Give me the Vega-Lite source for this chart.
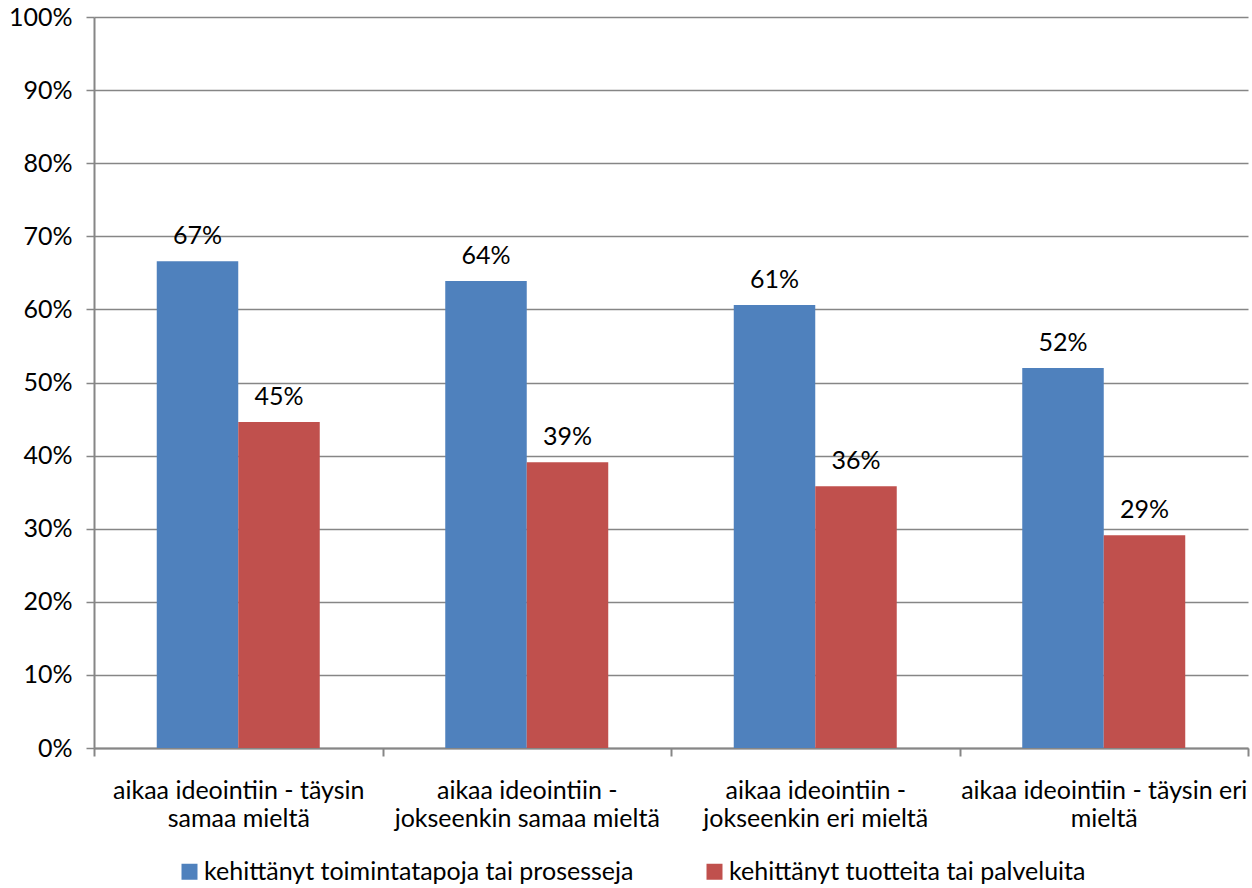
{
  "$schema": "https://vega.github.io/schema/vega-lite/v6.json",
  "width": 1154,
  "height": 731,
  "autosize": {"type": "none"},
  "padding": {"left": 94, "top": 17, "right": 4, "bottom": 140},
  "background": "white",
  "config": {
    "view": {"stroke": null},
    "font": "Lato",
    "axis": {"labelFont": "Lato", "labelColor": "black"}
  },
  "data": {
    "values": [
      {"kategoria": "aikaa ideointiin - täysin samaa mieltä", "sarja": "kehittänyt toimintatapoja tai prosesseja", "arvo": 0.666, "teksti": "67%"},
      {"kategoria": "aikaa ideointiin - täysin samaa mieltä", "sarja": "kehittänyt tuotteita tai palveluita", "arvo": 0.446, "teksti": "45%"},
      {"kategoria": "aikaa ideointiin - jokseenkin samaa mieltä", "sarja": "kehittänyt toimintatapoja tai prosesseja", "arvo": 0.639, "teksti": "64%"},
      {"kategoria": "aikaa ideointiin - jokseenkin samaa mieltä", "sarja": "kehittänyt tuotteita tai palveluita", "arvo": 0.391, "teksti": "39%"},
      {"kategoria": "aikaa ideointiin - jokseenkin eri mieltä", "sarja": "kehittänyt toimintatapoja tai prosesseja", "arvo": 0.606, "teksti": "61%"},
      {"kategoria": "aikaa ideointiin - jokseenkin eri mieltä", "sarja": "kehittänyt tuotteita tai palveluita", "arvo": 0.358, "teksti": "36%"},
      {"kategoria": "aikaa ideointiin - täysin eri mieltä", "sarja": "kehittänyt toimintatapoja tai prosesseja", "arvo": 0.520, "teksti": "52%"},
      {"kategoria": "aikaa ideointiin - täysin eri mieltä", "sarja": "kehittänyt tuotteita tai palveluita", "arvo": 0.291, "teksti": "29%"}
    ]
  },
  "encoding": {
    "x": {
      "field": "kategoria",
      "type": "nominal",
      "sort": null,
      "scale": {"paddingInner": 0, "paddingOuter": 0},
      "axis": {
        "title": null,
        "labelAngle": 0,
        "labelFontSize": 25,
        "labelLineHeight": 28,
        "labelPadding": 22,
        "labelBaseline": "top",
        "labelLimit": 400,
        "tickBand": "extent",
        "tickSize": 8,
        "tickWidth": 2,
        "tickColor": "#868686",
        "domainColor": "#868686",
        "domainWidth": 2,
        "grid": false,
        "labelExpr": "datum.value == 'aikaa ideointiin - täysin samaa mieltä' ? ['aikaa ideointiin - täysin', 'samaa mieltä'] : datum.value == 'aikaa ideointiin - jokseenkin samaa mieltä' ? ['aikaa ideointiin -', 'jokseenkin samaa mieltä'] : datum.value == 'aikaa ideointiin - jokseenkin eri mieltä' ? ['aikaa ideointiin -', 'jokseenkin eri mieltä'] : datum.value == 'aikaa ideointiin - täysin eri mieltä' ? ['aikaa ideointiin - täysin eri', 'mieltä'] : ''"
      }
    },
    "xOffset": {
      "field": "sarja",
      "type": "nominal",
      "sort": null,
      "scale": {"paddingInner": 0, "paddingOuter": 0.77}
    }
  },
  "layer": [
    {
      "mark": {"type": "bar"},
      "encoding": {
        "y": {
          "field": "arvo",
          "type": "quantitative",
          "scale": {"domain": [0, 1], "nice": false},
          "axis": {
            "title": null,
            "format": ".0%",
            "values": [0, 0.1, 0.2, 0.3, 0.4, 0.5, 0.6, 0.7, 0.8, 0.9, 1],
            "labelFontSize": 25,
            "labelPadding": 14,
            "tickSize": 8,
            "tickWidth": 1.5,
            "tickColor": "#868686",
            "domainColor": "#868686",
            "domainWidth": 2,
            "grid": true,
            "gridColor": "#868686",
            "gridWidth": 1.5
          }
        },
        "color": {
          "field": "sarja",
          "type": "nominal",
          "sort": null,
          "scale": {"range": ["#4F81BD", "#C0504D"]},
          "legend": {
            "title": null,
            "orient": "none",
            "direction": "horizontal",
            "legendX": 83,
            "legendY": 842,
            "symbolType": "square",
            "symbolSize": 256,
            "symbolStrokeWidth": 0,
            "labelFontSize": 25,
            "labelFont": "Lato",
            "labelColor": "black",
            "labelOffset": 2,
            "labelLimit": 600,
            "columnPadding": 68
          }
        }
      }
    },
    {
      "mark": {"type": "text", "fontSize": 25, "font": "Lato", "color": "black", "baseline": "alphabetic", "dy": -17},
      "encoding": {
        "y": {"field": "arvo", "type": "quantitative"},
        "text": {"field": "teksti", "type": "nominal"}
      }
    }
  ]
}
